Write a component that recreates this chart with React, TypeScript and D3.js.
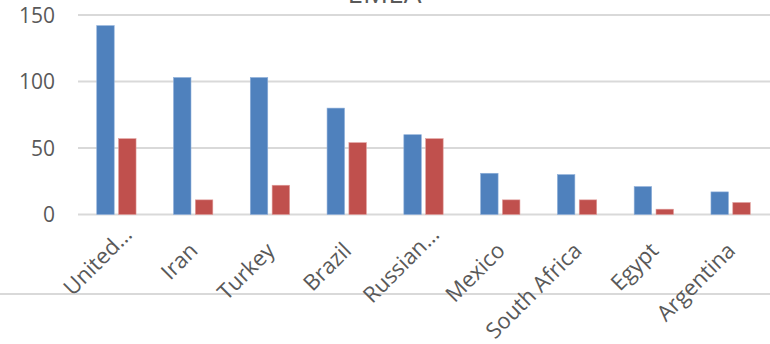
import React from 'react';
import * as d3 from 'd3';

const categories = ['United…', 'Iran', 'Turkey', 'Brazil', 'Russian…', 'Mexico', 'South Africa', 'Egypt', 'Argentina'];
const seriesNames = ['Series A', 'Series B'];
const seriesA = [142, 103, 103, 80, 60, 31, 30, 21, 17];
const seriesB = [57, 11, 22, 54, 57, 11, 11, 4, 9];
const yTicks = [0, 50, 100, 150];
const colors = ['#4F81BD', '#C0504D'];

const WIDTH = 770;
const HEIGHT = 344;
const LEFT = 78;
const RIGHT = 769;
const TOP = 15;
const BOTTOM = 214.5;
const FONT = '"Open Sans", "Noto Sans", sans-serif';

const App = () => {
  const x0 = d3.scaleBand<string>()
    .domain(categories)
    .range([LEFT, RIGHT]);
  const groupW = x0.bandwidth() * 0.512;
  const x1 = d3.scaleBand<string>()
    .domain(seriesNames)
    .range([0, groupW])
    .paddingInner(0.2);
  const y = d3.scaleLinear()
    .domain([0, 150])
    .range([BOTTOM, TOP]);

  const values = [seriesA, seriesB];

  return (
    <svg
      width={WIDTH}
      height={HEIGHT}
      style={{ position: 'absolute', left: 0, top: 0, background: '#fff' }}
    >
      <text
        x={384.5}
        y={3}
        textAnchor="middle"
        fontFamily={FONT}
        fontSize={28}
        fill="#595959"
      >
        EMEA
      </text>
      {yTicks.map(t => (
        <g key={t}>
          <line x1={LEFT} x2={WIDTH} y1={y(t)} y2={y(t)} stroke="#d9d9d9" strokeWidth={1.8} />
          <text
            x={55}
            y={y(t)}
            dy="0.36em"
            textAnchor="end"
            fontFamily={FONT}
            fontSize={21}
            fill="#595959"
          >
            {t}
          </text>
        </g>
      ))}
      <line x1={0} x2={WIDTH} y1={294} y2={294} stroke="#d9d9d9" strokeWidth={1.8} />
      {categories.map((c, i) => {
        const gx = (x0(c) ?? 0) + (x0.bandwidth() - groupW) / 2;
        return (
          <g key={c}>
            {seriesNames.map((s, j) => (
              <rect
                key={s}
                x={gx + (x1(s) ?? 0)}
                y={y(values[j][i])}
                width={x1.bandwidth()}
                height={y(0) - y(values[j][i])}
                fill={colors[j]}
                stroke={j === 0 ? '#8fb0da' : '#e09c9a'}
                strokeWidth={0.6}
              />
            ))}
          </g>
        );
      })}
      {categories.map(c => {
        const cx = (x0(c) ?? 0) + x0.bandwidth() / 2;
        const truncated = c.endsWith('…');
        const ax = cx + (truncated ? 17 : 6);
        const ay = truncated ? 236 : 252;
        return (
          <text
            key={c}
            transform={`translate(${ax},${ay}) rotate(-45)`}
            textAnchor="end"
            fontFamily={FONT}
            fontSize={22}
            fill="#595959"
          >
            {c}
          </text>
        );
      })}
    </svg>
  );
};

export default App;
